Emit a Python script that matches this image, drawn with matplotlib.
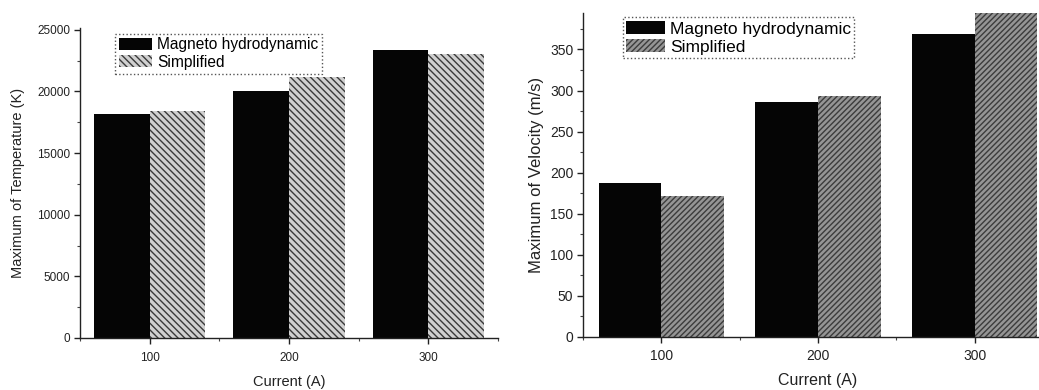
import matplotlib
matplotlib.use("Agg")
import matplotlib.pyplot as plt
import numpy as np
from matplotlib.ticker import MultipleLocator, AutoMinorLocator

plt.rcParams['font.family'] = ['Liberation Sans', 'DejaVu Sans']
plt.rcParams['hatch.linewidth'] = 1.0

currents = [100, 200, 300]
series_names = ["Magneto hydrodynamic", "Simplified"]
temp_mhd = [18200, 20050, 23400]
temp_simpl = [18400, 21150, 23050]
vel_mhd = [188, 286, 369]
vel_simpl = [172, 293, 400]

fig = plt.figure(figsize=(10.39, 3.90), dpi=100)

def style_axes(ax, fs_tick, xpad):
    for s in ['top', 'right']:
        ax.spines[s].set_visible(False)
    for s in ['left', 'bottom']:
        ax.spines[s].set_linewidth(1.0)
        ax.spines[s].set_color('#222222')
    ax.tick_params(axis='both', which='major', direction='out', length=4, width=1,
                   labelsize=fs_tick, colors='#222222', pad=3)
    ax.tick_params(axis='x', which='major', pad=xpad)
    ax.tick_params(axis='both', which='minor', direction='out', length=2, width=0.8,
                   colors='#444444')
    ax.set_xticks(currents)
    ax.xaxis.set_minor_locator(MultipleLocator(50))

def style_legend(leg):
    fr = leg.get_frame()
    fr.set_edgecolor('#555555')
    fr.set_linestyle(':')
    fr.set_linewidth(1.0)

x = np.array(currents, dtype=float)

# ---------- left panel ----------
ax1 = fig.add_axes([80/1039, 1-338/390, 418/1039, 310/390])
ax1.bar(x-20, temp_mhd, width=40, color='#050505', edgecolor='#050505',
        linewidth=0, label=series_names[0])
ax1.bar(x+20, temp_simpl, width=40, color='#d0d0d0', edgecolor='#3a3a3a',
        hatch='\\\\\\\\\\', linewidth=0, label=series_names[1])
ax1.set_xlim(50, 350)
ax1.set_ylim(0, 25150)
ax1.yaxis.set_major_locator(MultipleLocator(5000))
ax1.yaxis.set_minor_locator(AutoMinorLocator(2))
style_axes(ax1, 8.5, 6)
ax1.set_xlabel("Current (A)", fontsize=10.5, labelpad=8, color='#222222')
ax1.set_ylabel("Maximum of Temperature (K)", fontsize=10.5, labelpad=9, color='#222222')
leg1 = ax1.legend(loc='upper left', bbox_to_anchor=(0.084, 0.982), fontsize=11.2,
                  handlelength=2.15, handleheight=0.8, handletextpad=0.3,
                  borderpad=0.25, labelspacing=0.15, fancybox=False, framealpha=1,
                  borderaxespad=0)
style_legend(leg1)

# ---------- right panel ----------
ax2 = fig.add_axes([583/1039, 1-337/390, 470/1039, 324.5/390])
ax2.bar(x-20, vel_mhd, width=40, color='#050505', edgecolor='#050505',
        linewidth=0, label=series_names[0])
ax2.bar(x+20, vel_simpl, width=40, color='#959595', edgecolor='#3c3c3c',
        hatch='//////', linewidth=0, label=series_names[1])
ax2.set_xlim(50, 350)
ax2.set_ylim(0, 395)
ax2.yaxis.set_major_locator(MultipleLocator(50))
ax2.yaxis.set_minor_locator(AutoMinorLocator(2))
style_axes(ax2, 10, 5)
ax2.set_xlabel("Current (A)", fontsize=11.5, labelpad=7, color='#222222')
ax2.set_ylabel("Maximum of Velocity (m/s)", fontsize=12, labelpad=4, color='#222222')
leg2 = ax2.legend(loc='upper left', bbox_to_anchor=(0.085, 0.985), fontsize=12.5,
                  handlelength=2.2, handleheight=0.8, handletextpad=0.3,
                  borderpad=0.2, labelspacing=0.15, fancybox=False, framealpha=1,
                  borderaxespad=0)
style_legend(leg2)

fig.savefig("out.png", dpi=100)
